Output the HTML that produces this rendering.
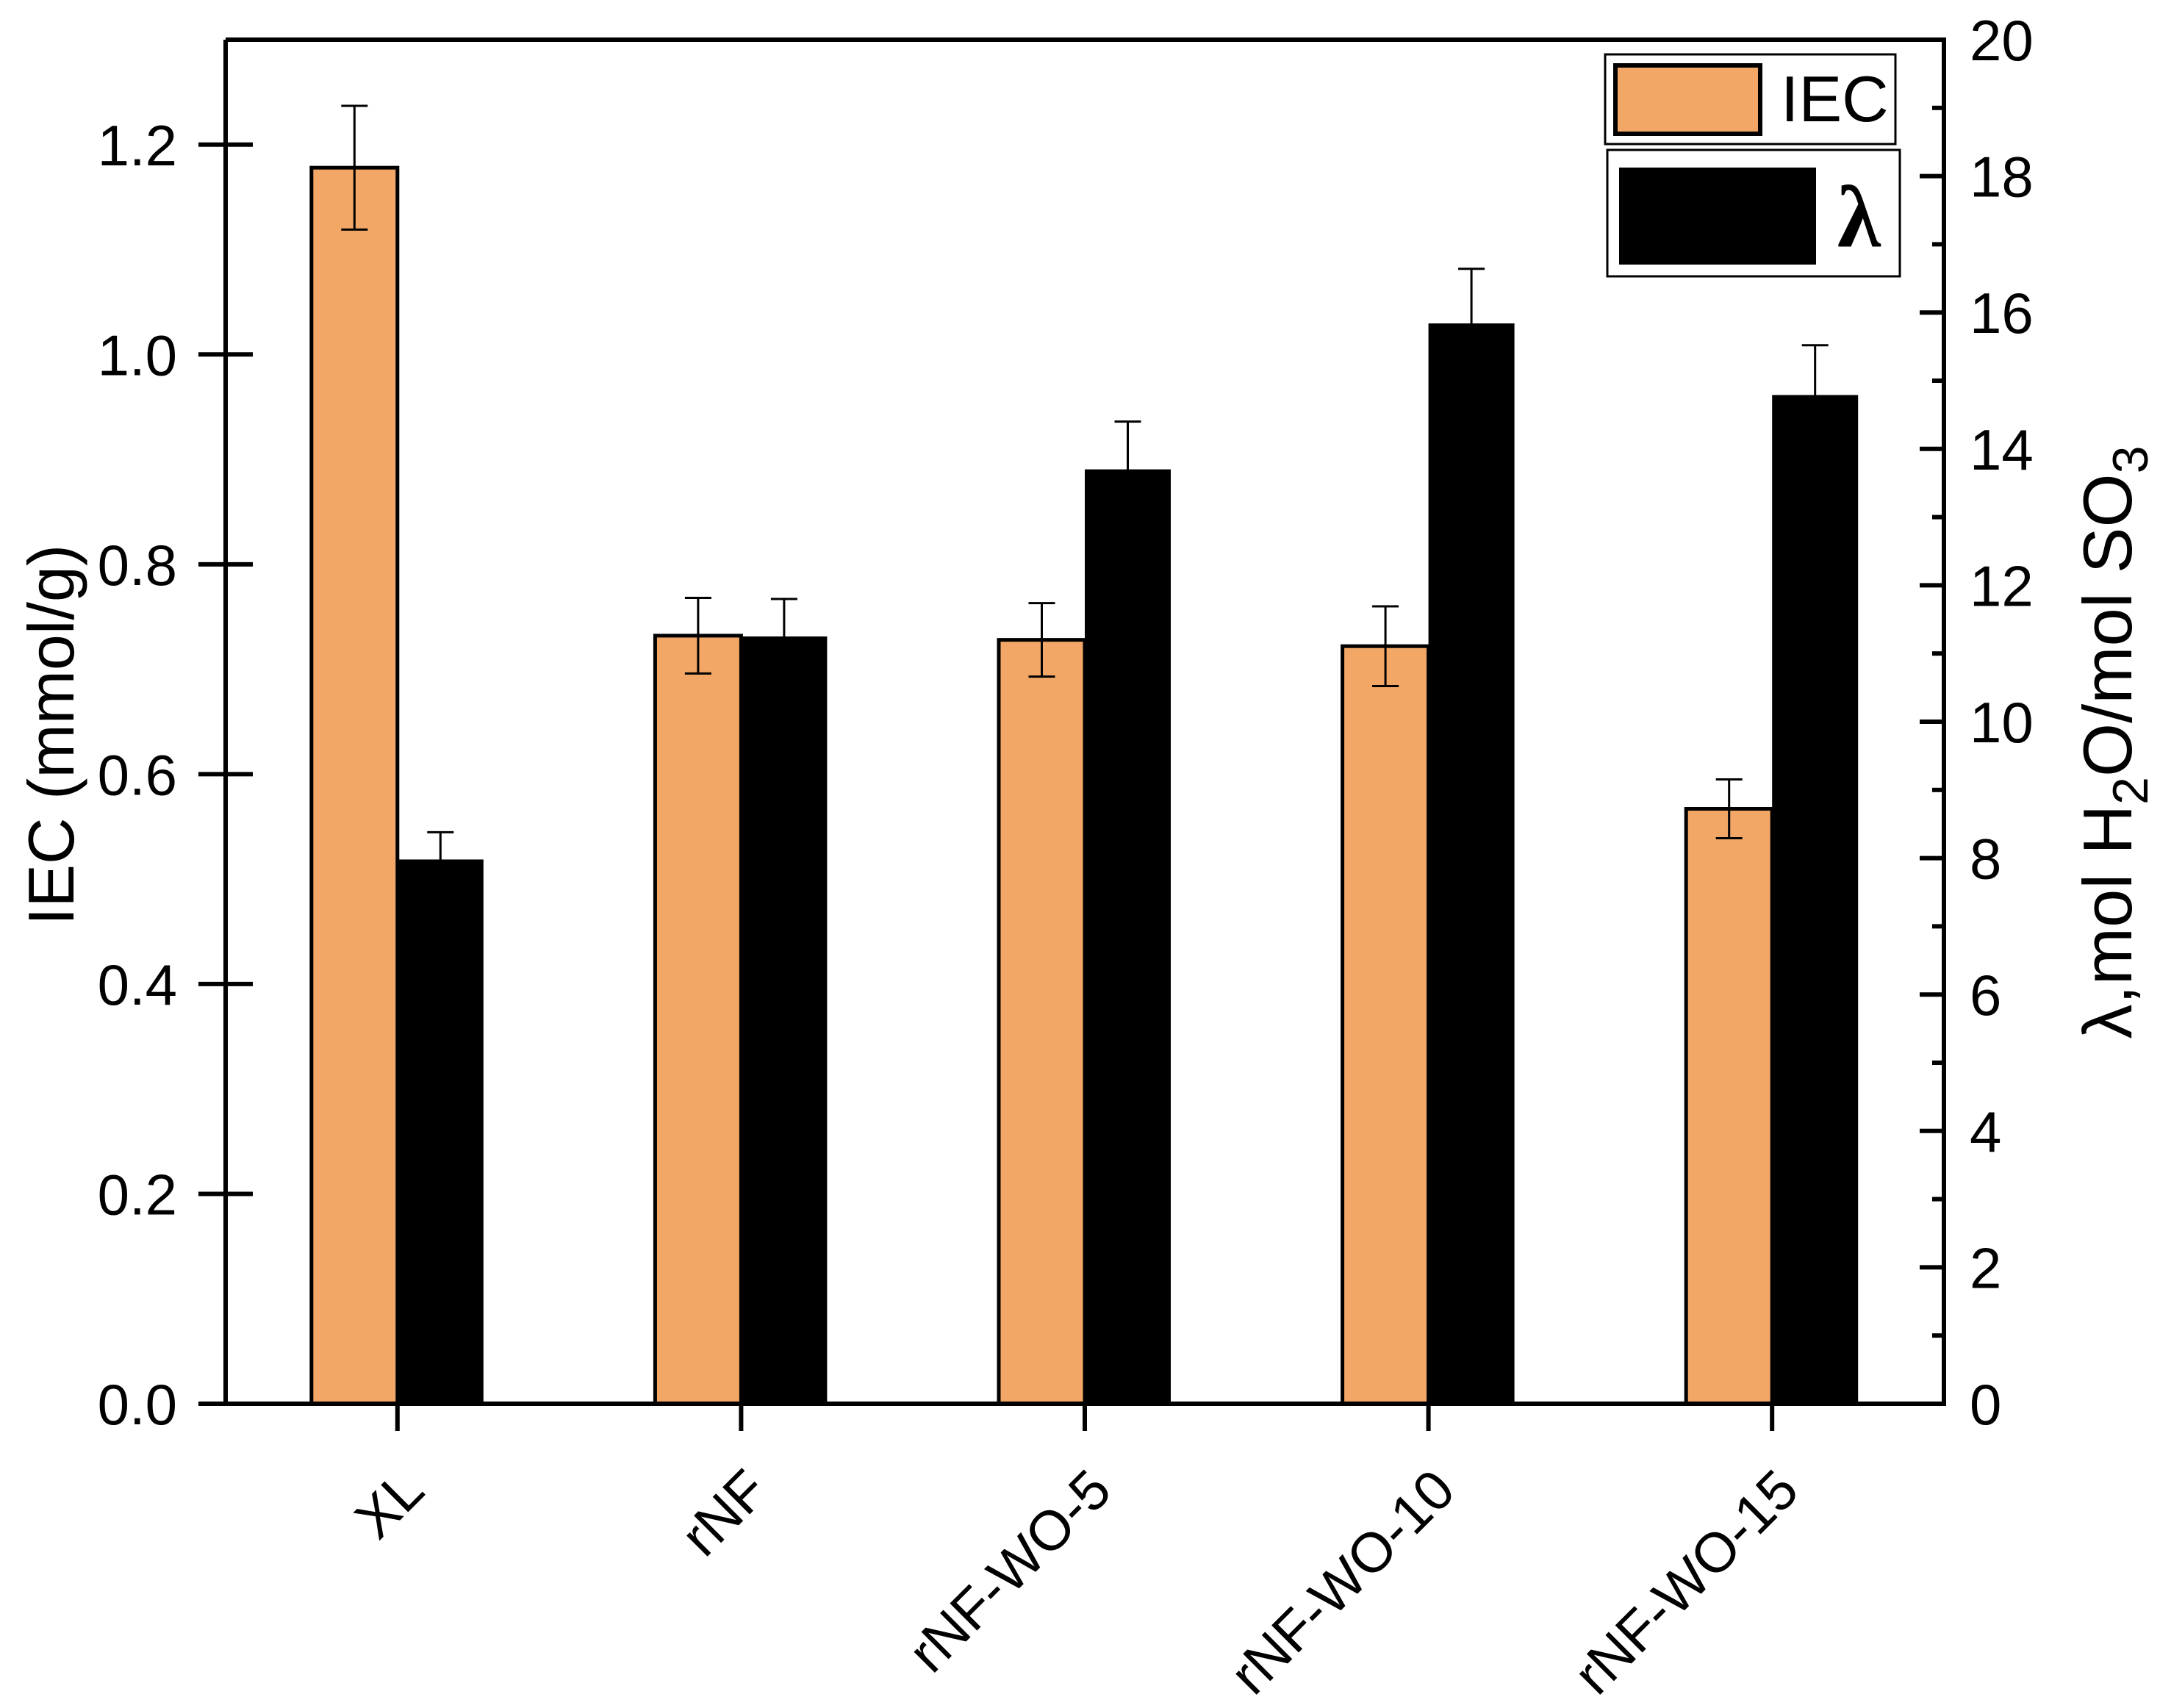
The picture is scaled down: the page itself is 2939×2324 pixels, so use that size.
<!DOCTYPE html>
<html><head><meta charset="utf-8"><style>
html,body{margin:0;padding:0;background:#fff}
svg{display:block}
text{font-family:"Liberation Sans",sans-serif;fill:#000}
</style></head><body>
<svg id="chart" width="2939" height="2324" viewBox="0 0 2939 2324" xmlns="http://www.w3.org/2000/svg">
<g id="bars"></g>
<g id="axes"></g>
<g id="legend">
  <rect x="2184" y="74" width="395" height="122" fill="#fff" stroke="#000" stroke-width="3"/>
  <rect x="2198" y="89" width="197" height="93" fill="#F2A766" stroke="#000" stroke-width="6"/>
  <text x="2423" y="165" font-size="88">IEC</text>
  <rect x="2187" y="204" width="398" height="172" fill="#fff" stroke="#000" stroke-width="3"/>
  <rect x="2203" y="228" width="268" height="132" fill="#000"/>
  <text x="2500" y="335" font-size="120" font-weight="bold" style="font-family:'Liberation Serif',serif">λ</text>
</g>
<text transform="translate(100,1000) rotate(-90)" text-anchor="middle" font-size="88">IEC (mmol/g)</text>
<text transform="translate(2900,1010) rotate(-90)" text-anchor="middle" font-size="94">λ,mol H<tspan font-size="68" dy="22">2</tspan><tspan dy="-22">O/mol SO</tspan><tspan font-size="68" dy="22">3</tspan></text>
</svg>
<script>
const categories = ["XL","rNF","rNF-WO-5","rNF-WO-10","rNF-WO-15"];
const iecValues = [1.178,0.732,0.728,0.722,0.567];
const iecErrors = [0.059,0.036,0.035,0.038,0.028];
const lambdaValues = [7.98,11.25,13.7,15.84,14.79];
const lambdaErrors = [0.4,0.55,0.7,0.8,0.73];
const leftTicks = [0,0.2,0.4,0.6,0.8,1.0,1.2];
const leftTickLabels = ["0.0","0.2","0.4","0.6","0.8","1.0","1.2"];
const rightTicks = [0,2,4,6,8,10,12,14,16,18,20];

const NS="http://www.w3.org/2000/svg";
const X0=307,X1=2645,Y0=1910,YT=54;
const yL=v=>Y0-(Y0-YT)*v/1.3;
const yR=v=>Y0-(Y0-YT)*v/20;
const xC=i=>X0+(X1-X0)/categories.length*(i+0.5);
const BW=117;
function mk(tag,attrs,parent){const e=document.createElementNS(NS,tag);for(const k in attrs)e.setAttribute(k,attrs[k]);parent.appendChild(e);return e;}
const bars=document.getElementById('bars'), axes=document.getElementById('axes');

categories.forEach((c,i)=>{
  const cx=xC(i);
  const ob=mk('rect',{x:cx-BW,y:yL(iecValues[i]),width:BW,height:Y0-yL(iecValues[i]),fill:'#F2A766',stroke:'#000','stroke-width':5},bars);
  
  
  const bb=mk('rect',{x:cx,y:yR(lambdaValues[i]),width:BW,height:Y0-yR(lambdaValues[i]),fill:'#000'},bars);
  
  
  const ex1=cx-BW/2, t1=yL(iecValues[i]+iecErrors[i]), b1=yL(iecValues[i]-iecErrors[i]);
  const e1=mk('path',{d:`M${ex1-18},${t1}H${ex1+18}M${ex1},${t1}V${b1}M${ex1-18},${b1}H${ex1+18}`,stroke:'#000','stroke-width':3,fill:'none'},bars);
  
  
  const ex2=cx+BW/2, t2=yR(lambdaValues[i]+lambdaErrors[i]), b2=yR(lambdaValues[i]-lambdaErrors[i]);
  const e2=mk('path',{d:`M${ex2-18},${t2}H${ex2+18}M${ex2},${t2}V${b2}M${ex2-18},${b2}H${ex2+18}`,stroke:'#000','stroke-width':3,fill:'none'},bars);
  
  
  const tk=mk('line',{x1:cx,y1:Y0,x2:cx,y2:Y0+37,stroke:'#000','stroke-width':6},axes);
  
  
  const tl=mk('text',{transform:`translate(${cx+40},${Y0+122}) rotate(-45)`,'text-anchor':'end','font-size':76},axes);
  
  
  tl.textContent=c;
});

const frame=mk('path',{d:`M${X0},${YT}V${Y0}H${X1}V${YT}H${X0}`,stroke:'#000','stroke-width':6,fill:'none'},axes);



leftTicks.forEach((v,i)=>{
  const y=yL(v);
  const l=mk('line',{x1:X0-37,y1:y,x2:X0+37,y2:y,stroke:'#000','stroke-width':6},axes);
  
  
  const t=mk('text',{x:241,y:y+28,'text-anchor':'end','font-size':78},axes);
  
  
  t.textContent=leftTickLabels[i];
});
rightTicks.forEach(v=>{
  const y=yR(v);
  const l=mk('line',{x1:X1-33,y1:y,x2:X1,y2:y,stroke:'#000','stroke-width':6},axes);
  
  
  const t=mk('text',{x:2680,y:y+28,'font-size':78},axes);
  
  
  t.textContent=String(v);
  if(v<20){
    const m=mk('line',{x1:X1-16,y1:yR(v+1),x2:X1,y2:yR(v+1),stroke:'#000','stroke-width':6},axes);
    
    
  }
});
</script>
</body></html>
